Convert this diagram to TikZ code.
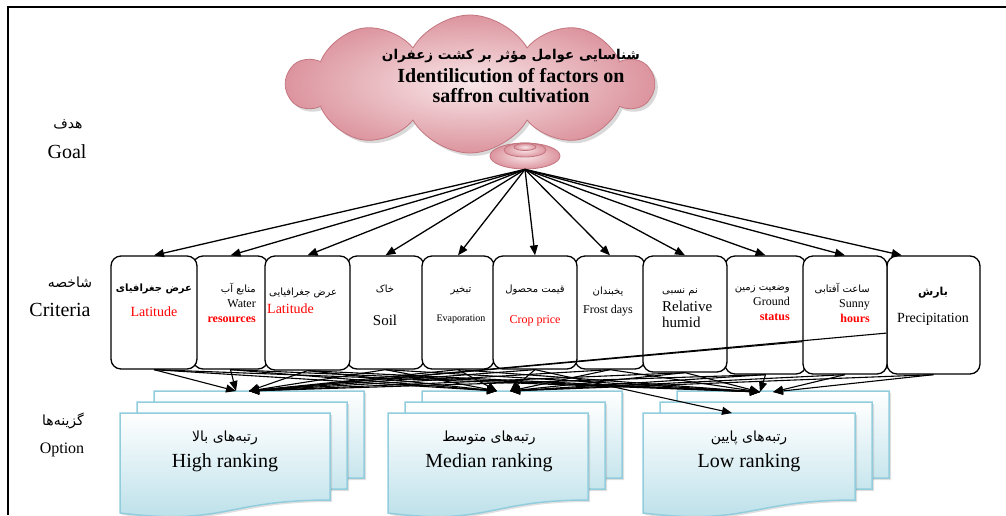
\documentclass[tikz,border=0pt]{standalone}
\usepackage{fontspec}
\setmainfont{Liberation Serif}
\newfontfamily\arabicfont[Script=Arabic]{DejaVu Sans}
\TeXXeTstate=1
\usetikzlibrary{shapes,arrows.meta,shadows}

\definecolor{cloudin}{RGB}{248,230,232}
\definecolor{cloudout}{RGB}{220,148,158}
\definecolor{cloudline}{RGB}{196,118,128}
\definecolor{optline}{RGB}{146,205,221}
\definecolor{optfill}{RGB}{183,222,232}

\newcommand{\fatext}[1]{{\arabicfont\beginR #1\endR}}
\newcommand{\fasmall}[1]{{\fontsize{10}{12}\selectfont\fatext{#1}}}
% one stack of three pages: x, y (front page top left), width
\newcommand{\optdoc}[3]{%
  \foreach \d in {2,1,0} {
    \pgfmathsetmacro{\px}{#1+17*\d}
    \pgfmathsetmacro{\py}{#2-11*\d}
    \path[optpage] (\px,\py) -- (\px+#3,\py) -- (\px+#3,\py+87)
      .. controls (\px+0.5*#3,\py+87) and (\px+0.5*#3,\py+113) .. (\px,\py+100) -- cycle;
  }}

\begin{document}
\begin{tikzpicture}[x=1pt,y=-1pt,
  crit/.style={rectangle, draw, line width=1.3pt, rounded corners=10pt, fill=white, inner sep=0pt},
  crittext/.style={align=center, inner sep=0pt, font=\fontsize{12}{15}\selectfont},
  side/.style={align=center, inner sep=0pt},
  fan/.style={-{Triangle[length=10pt,width=8pt]}, line width=1.3pt},
  link/.style={-{Triangle[length=10pt,width=8pt]}, line width=1.1pt},
  optpage/.style={draw=optline, line width=1.5pt, top color=white, bottom color=optfill,
    drop shadow={opacity=0.25, shadow xshift=2pt, shadow yshift=-2pt}},
  opttext/.style={align=center, inner sep=0pt, font=\fontsize{20}{24}\selectfont},
  tail/.style={ellipse, draw=cloudline, line width=0.8pt, inner color=cloudin, outer color=cloudout, inner sep=0pt}]
\useasboundingbox (0,0) rectangle (1006,515);

% frame
\draw[line width=1.3pt] (8,515) -- (8,7) -- (1006,7);

% Goal cloud
\node[cloud, cloud puffs=10, cloud puff arc=120, aspect=2.6, draw=cloudline, line width=0.8pt,
  inner color=cloudin, outer color=cloudout, minimum width=365pt, minimum height=138pt,
  drop shadow={opacity=0.3, shadow xshift=3pt, shadow yshift=-3pt}] (goal) at (470,84) {};
\node[tail, minimum width=70pt, minimum height=26pt] (tailA) at (525,156) {};
\node[tail, minimum width=42pt, minimum height=14pt] (tailB) at (525,150) {};
\node[tail, minimum width=22pt, minimum height=7pt] (tailC) at (525,147) {};
\node[align=center, inner sep=0pt, font=\bfseries\fontsize{20}{20}\selectfont] (goaltxt) at (511,76)
  {{\fontsize{13.5}{16}\selectfont\fatext{شناسایی عوامل مؤثر بر کشت زعفران}}\\[3pt]Identilicution of factors on\\saffron cultivation};

% level labels
\node[side, font=\fontsize{14}{16}\selectfont] (goalfa) at (68,124) {\fatext{هدف}};
\node[side, font=\fontsize{20}{22}\selectfont] (goalen) at (67,152) {Goal};
\node[side, font=\fontsize{14}{16}\selectfont] (critfa) at (70,282) {\fatext{شاخصه}};
\node[side, font=\fontsize{20}{22}\selectfont] (criten) at (60,310) {Criteria};
\node[side, font=\fontsize{14}{16}\selectfont] (optfa) at (63,421) {\fatext{گزینه‌ها}};
\node[side, font=\fontsize{16}{18}\selectfont] (opten) at (62,450) {Option};

% Options
\optdoc{120}{413}{210}
\optdoc{388}{413}{200}
\optdoc{643}{413}{212}
\node[opttext] (hi) at (225,451) {{\fontsize{14}{16}\selectfont\fatext{رتبه‌های بالا}}\\[2pt]High ranking};
\node[opttext] (med) at (489,451) {{\fontsize{14}{16}\selectfont\fatext{رتبه‌های متوسط}}\\[2pt]Median ranking};
\node[opttext] (lo) at (749,451) {{\fontsize{14}{16}\selectfont\fatext{رتبه‌های پایین}}\\[2pt]Low ranking};
\coordinate (hiL) at (236,391);
\coordinate (hiR) at (249,391);
\coordinate (medL) at (497,391);
\coordinate (medR) at (510,391);
\coordinate (loL) at (760,392);
\coordinate (loR) at (773,392);
\coordinate (loF) at (732,413);

% Criteria
\node[crit, minimum width=75pt, minimum height=113pt] (c2) at (230.5,312.5) {};
\node[crit, minimum width=77pt, minimum height=113pt] (c4) at (385.5,312.5) {};
\node[crit, minimum width=72pt, minimum height=113pt] (c5) at (458,312.5) {};
\node[crit, minimum width=70pt, minimum height=113pt] (c7) at (610,312.5) {};
\node[crit, minimum width=81pt, minimum height=118pt] (c9) at (765.5,315) {};
\node[crit, minimum width=93pt, minimum height=118pt] (c11) at (933.5,315) {};
\node[crit, minimum width=86pt, minimum height=113pt] (c1) at (154,312.5) {};
\node[crit, minimum width=85pt, minimum height=114pt] (c3) at (307.5,313) {};
\node[crit, minimum width=84pt, minimum height=113pt] (c6) at (535,312.5) {};
\node[crit, minimum width=84pt, minimum height=116pt] (c8) at (685,314) {};
\node[crit, minimum width=84pt, minimum height=118pt] (c10) at (845,315) {};

\node[crittext] (t1) at (154,300) {\fasmall{\bfseries عرض جغرافیای}\\[10pt]{\fontsize{14}{16}\selectfont\textcolor{red}{Latitude}}};
\node[crittext, anchor=east, align=right] (t2) at (256,303) {\fasmall{منابع آب}\\Water\\\textcolor{red}{\bfseries resources}};
\node[crittext, anchor=west, align=left] (t3) at (267,301) {\hspace*{2pt}\fasmall{عرض جغرافیایی}\\[3pt]{\fontsize{14}{16}\selectfont\textcolor{red}{Latitude}}};
\node[crittext] (t4) at (385,305) {\fasmall{خاک}\\[18pt]{\fontsize{15}{17}\selectfont Soil}};
\node[crittext] (t5) at (461,305) {\fasmall{تبخیر}\\[14pt]{\fontsize{10}{12}\selectfont Evaporation}};
\node[crittext] (t6) at (535,305) {\fasmall{قیمت محصول}\\[16pt]\textcolor{red}{Crop price}};
\node[crittext] (t7) at (608,301) {\fasmall{یخبندان}\\[4pt]Frost days};
\node[crittext, anchor=west, align=left, font=\fontsize{15}{16}\selectfont] (t8) at (662,308) {\fasmall{نم نسبی}\\[2pt]Relative\\humid};
\node[crittext, anchor=east, align=right] (t9) at (790,303) {\fasmall{وضعیت زمین}\\Ground\\\textcolor{red}{\bfseries status}};
\node[crittext, anchor=east, align=right] (t10) at (870,303) {\fasmall{ساعت آفتابی}\\Sunny\\\textcolor{red}{\bfseries hours}};
\node[crittext] (t11) at (933,306) {{\fontsize{11}{13}\selectfont\bfseries\fatext{بارش}}\\[12pt]{\fontsize{14}{16}\selectfont Precipitation}};

% Goal -> criteria
\foreach \k in {1,...,10}
  \draw[fan] (tailA.south) -- (c\k.north);
\draw[fan] (tailA.south) -- (c11.118);

% criteria -> options
\foreach \k in {1,2}
  \draw[link] (c\k.south) -- (hiL);
\foreach \k in {3,...,9}
  \draw[link] (c\k.south) -- (hiR);
\draw[link] (c10.212) -- (hiR);
\draw[link] (c11.201) -- (hiR);
\foreach \k in {1,...,5}
  \draw[link] (c\k.south) -- (medL);
\foreach \k in {6,...,11}
  \draw[link] (c\k.south) -- (medR);
\foreach \k in {1,2,3,4,5,7,8,9}
  \draw[link] (c\k.south) -- (loL);
\foreach \k in {10,11}
  \draw[link] (c\k.south) -- (loR);
\draw[link] (c6.south) -- (loF);
\end{tikzpicture}
\end{document}
